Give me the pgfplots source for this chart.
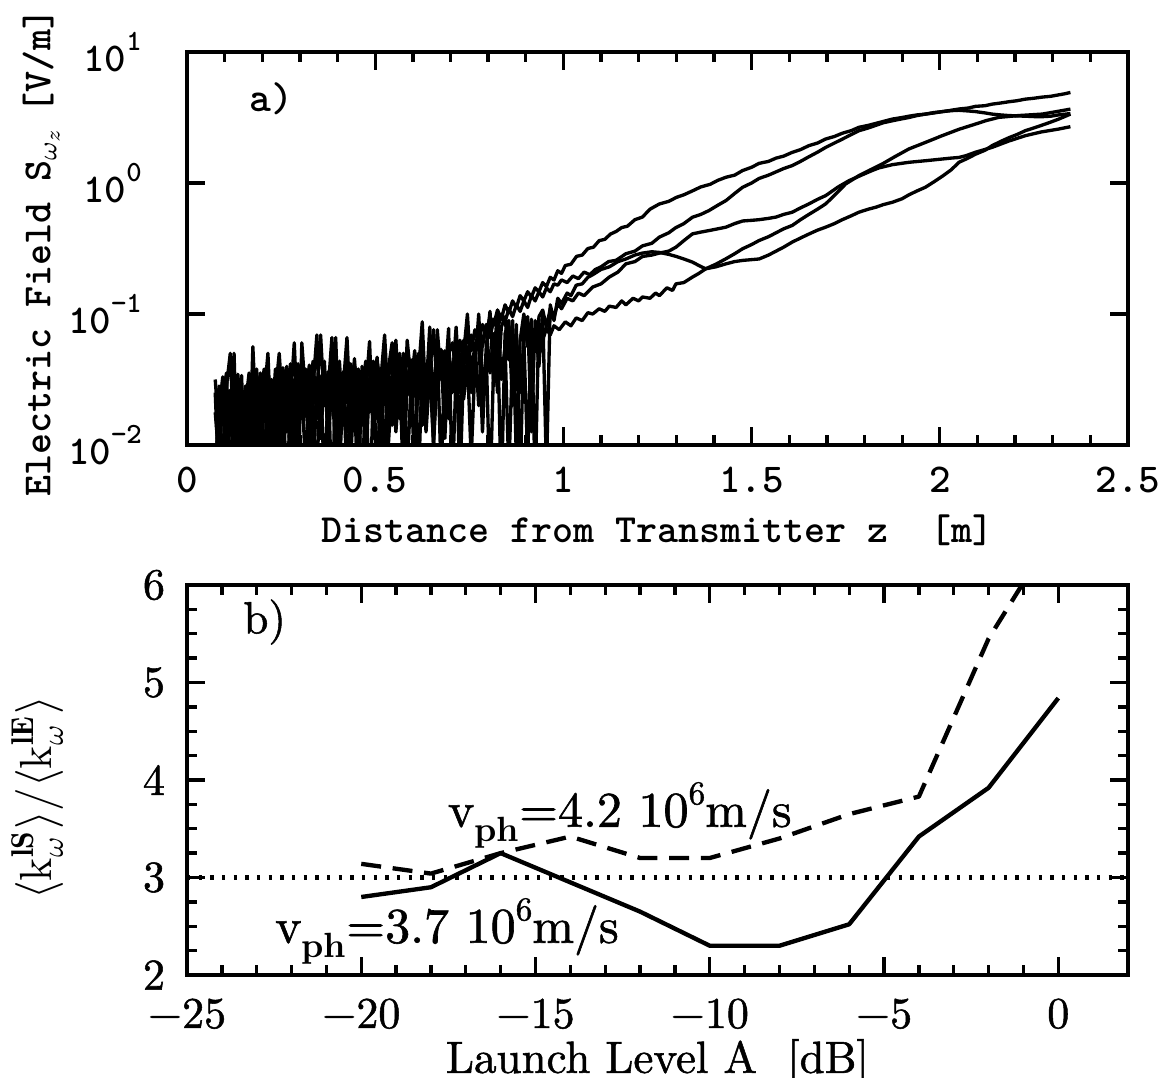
\documentclass[border=0pt]{standalone}
\usepackage{fontspec}
\usepackage{pgfplots}
\pgfplotsset{compat=1.18}
\newfontfamily\ttb{lmmonolt10-bold.otf}
\newfontfamily\rmf{lmroman10-regular.otf}[FakeBold=1.2]
\newfontfamily\rmfb{lmroman10-bold.otf}
\newcommand{\tsup}[1]{\raisebox{0.5em}{\fontsize{8.8}{9}\selectfont #1}}
\begin{document}
\begin{tikzpicture}
\useasboundingbox (-56.1pt,-189.9pt) rectangle (291.6pt,133.5pt);
% ---------------- panel a ----------------
\begin{axis}[
  at={(0,0)}, anchor=south west,
  scale only axis, width=282.3pt, height=117.9pt,
  xmin=0, xmax=2.5, ymin=-2, ymax=1,
  xtick={0,0.5,1,1.5,2,2.5}, xticklabels={0,0.5,1,1.5,2,2.5},
  minor x tick num=4,
  ytick={-2,-1,0,1},
  yticklabels={10\tsup{−2},10\tsup{−1},10\tsup{0},10\tsup{1}},
  axis line style={line width=1.2pt},
  every tick/.style={black, line width=1pt},
  major tick length=5.5pt, minor tick length=3pt,
  tick label style={font=\ttb\fontsize{12.3}{14}\selectfont},
  xticklabel style={yshift=-3pt},
  yticklabel style={xshift=-10pt},
  every axis x label/.style={at={(axis description cs:0.5,-0.216)}, anchor=center, inner sep=0pt},
  every axis y label/.style={at={(axis description cs:-0.155,0.49)}, rotate=90, anchor=center, inner sep=0pt},
  xlabel={Distance from Transmitter z\ \ [m]},
  ylabel={Electric Field S$_{\omega_z}$\hspace{-0.2em} [V/m]},
  label style={font=\ttb\fontsize{12}{14}\selectfont},
]
% curve A
\addplot[black, line width=1pt, line join=round] coordinates {
(0.075,-2.4)(0.085,-1.55)(0.095,-2.2)(0.105,-1.68)(0.115,-1.9)(0.125,-1.3)(0.135,-2.3)(0.145,-1.62)(0.155,-1.95)(0.165,-1.5)(0.175,-2.1)(0.185,-1.72)(0.195,-1.45)(0.205,-2.2)(0.215,-1.6)(0.225,-1.85)(0.235,-1.42)(0.245,-2.0)(0.255,-1.55)(0.265,-2.4)(0.275,-1.66)(0.285,-1.22)(0.295,-1.9)(0.305,-1.52)(0.315,-2.2)(0.325,-1.6)(0.335,-1.36)(0.345,-1.8)(0.355,-1.48)(0.365,-2.3)(0.375,-1.58)(0.385,-1.18)(0.395,-1.95)(0.405,-1.5)(0.415,-1.75)(0.425,-1.34)(0.435,-2.1)(0.445,-1.55)(0.455,-1.42)(0.465,-1.85)(0.475,-1.45)(0.485,-2.5)(0.495,-1.6)(0.505,-1.33)(0.515,-1.7)(0.525,-1.45)(0.535,-2.0)(0.545,-1.5)(0.555,-1.2)(0.565,-1.8)(0.575,-1.42)(0.585,-2.2)(0.595,-1.55)(0.605,-1.28)(0.615,-1.65)(0.625,-1.4)(0.635,-1.9)(0.645,-1.45)(0.655,-1.12)(0.665,-1.6)(0.675,-1.35)(0.685,-1.7)(0.695,-1.3)(0.705,-1.22)(0.715,-1.45)(0.725,-1.2)(0.735,-1.35)(0.745,-1.15)(0.755,-1.28)(0.765,-1.12)(0.775,-1.22)(0.785,-1.08)(0.795,-1.15)(0.805,-1.02)(0.815,-1.08)(0.825,-0.97)(0.835,-1.04)(0.845,-0.93)(0.855,-0.99)(0.865,-0.9)(0.875,-0.95)(0.885,-0.86)(0.895,-0.9)(0.905,-0.83)(0.915,-0.87)(0.925,-0.8)(0.935,-0.83)(0.945,-0.76)(0.955,-0.79)(0.965,-0.72)(0.975,-0.74)(0.985,-0.67)(0.995,-0.69)(1.005,-0.63)(1.02,-0.62)(1.035,-0.56)(1.05,-0.55)(1.065,-0.5)(1.08,-0.49)(1.095,-0.44)(1.11,-0.43)(1.125,-0.39)(1.14,-0.37)(1.155,-0.34)(1.17,-0.33)(1.19,-0.28)(1.21,-0.26)(1.23,-0.2)(1.255,-0.16)(1.28,-0.14)(1.30,-0.11)(1.32,-0.09)(1.343,-0.06)(1.365,-0.03)(1.39,-0.01)(1.41,0.02)(1.432,0.044)(1.455,0.06)(1.476,0.095)(1.50,0.12)(1.52,0.15)(1.545,0.165)(1.565,0.19)(1.585,0.205)(1.608,0.234)(1.63,0.255)(1.652,0.285)(1.675,0.305)(1.697,0.336)(1.72,0.355)(1.741,0.38)(1.765,0.4)(1.785,0.425)(1.81,0.44)(1.83,0.455)(1.85,0.47)(1.874,0.488)(1.9,0.5)(1.918,0.51)(1.94,0.52)(1.962,0.526)(1.985,0.538)(2.007,0.545)(2.03,0.555)(2.051,0.565)(2.075,0.572)(2.095,0.585)(2.12,0.59)(2.139,0.602)(2.16,0.61)(2.183,0.62)(2.205,0.628)(2.227,0.64)(2.25,0.647)(2.27,0.655)(2.295,0.662)(2.316,0.673)(2.33,0.68)(2.347,0.691)
};
% curve B
\addplot[black, line width=1pt, line join=round] coordinates {
(0.075,-1.6)(0.085,-2.3)(0.095,-1.5)(0.105,-2.0)(0.115,-1.58)(0.125,-2.4)(0.135,-1.46)(0.145,-1.85)(0.155,-1.55)(0.165,-2.2)(0.175,-1.25)(0.185,-1.9)(0.195,-1.65)(0.205,-1.42)(0.215,-2.3)(0.225,-1.5)(0.235,-1.78)(0.245,-1.45)(0.255,-2.1)(0.265,-1.6)(0.275,-1.38)(0.285,-2.0)(0.295,-1.5)(0.305,-1.7)(0.315,-1.42)(0.325,-2.35)(0.335,-1.55)(0.345,-1.16)(0.355,-1.95)(0.365,-1.48)(0.375,-1.72)(0.385,-1.35)(0.395,-2.2)(0.405,-1.45)(0.415,-1.6)(0.425,-1.9)(0.435,-1.38)(0.445,-1.65)(0.455,-2.4)(0.465,-1.4)(0.475,-1.6)(0.485,-1.21)(0.495,-1.95)(0.505,-1.48)(0.515,-2.2)(0.525,-1.36)(0.535,-1.55)(0.545,-1.85)(0.555,-1.4)(0.565,-1.3)(0.575,-2.0)(0.585,-1.45)(0.595,-1.62)(0.605,-1.33)(0.615,-2.3)(0.625,-1.38)(0.635,-1.6)(0.645,-1.1)(0.655,-1.85)(0.665,-1.4)(0.675,-1.27)(0.685,-1.95)(0.695,-1.32)(0.705,-1.5)(0.715,-1.1)(0.725,-1.6)(0.735,-1.2)(0.745,-1.4)(0.755,-1.16)(0.765,-1.3)(0.775,-1.12)(0.785,-1.25)(0.795,-1.08)(0.805,-1.18)(0.815,-1.04)(0.825,-1.12)(0.835,-1.0)(0.845,-1.06)(0.855,-0.96)(0.865,-1.02)(0.875,-0.93)(0.885,-0.98)(0.895,-0.9)(0.905,-0.95)(0.915,-0.86)(0.925,-0.9)(0.935,-0.83)(0.945,-0.87)(0.955,-0.8)(0.965,-0.83)(0.975,-0.77)(0.985,-0.78)(0.995,-0.74)(1.01,-0.76)(1.025,-0.71)(1.04,-0.73)(1.055,-0.68)(1.07,-0.7)(1.085,-0.66)(1.10,-0.64)(1.12,-0.6)(1.14,-0.59)(1.166,-0.54)(1.19,-0.52)(1.21,-0.48)(1.235,-0.46)(1.255,-0.413)(1.28,-0.38)(1.299,-0.34)(1.32,-0.31)(1.343,-0.261)(1.365,-0.24)(1.387,-0.21)(1.41,-0.17)(1.432,-0.134)(1.455,-0.08)(1.476,-0.033)(1.50,0.0)(1.52,0.035)(1.545,0.06)(1.565,0.085)(1.585,0.11)(1.608,0.133)(1.63,0.165)(1.652,0.2)(1.675,0.235)(1.697,0.272)(1.72,0.305)(1.741,0.335)(1.765,0.37)(1.785,0.399)(1.81,0.42)(1.83,0.44)(1.85,0.46)(1.874,0.475)(1.9,0.49)(1.918,0.50)(1.94,0.515)(1.962,0.526)(1.985,0.535)(2.007,0.545)(2.03,0.552)(2.051,0.555)(2.075,0.55)(2.095,0.545)(2.12,0.535)(2.139,0.526)(2.16,0.52)(2.183,0.515)(2.205,0.512)(2.227,0.51)(2.25,0.507)(2.27,0.506)(2.295,0.51)(2.316,0.52)(2.347,0.53)
};
% curve F (middle)
\addplot[black, line width=1pt, line join=round] coordinates {
(0.075,-2.2)(0.085,-1.75)(0.095,-1.48)(0.105,-2.3)(0.115,-1.62)(0.125,-1.8)(0.135,-1.5)(0.145,-2.4)(0.155,-1.7)(0.165,-1.45)(0.175,-1.88)(0.185,-1.55)(0.195,-2.2)(0.205,-1.64)(0.215,-1.3)(0.225,-2.0)(0.235,-1.58)(0.245,-1.75)(0.255,-1.41)(0.265,-1.9)(0.275,-1.52)(0.285,-2.3)(0.295,-1.63)(0.305,-1.37)(0.315,-1.78)(0.325,-1.5)(0.335,-2.1)(0.345,-1.6)(0.355,-1.16)(0.365,-1.7)(0.375,-1.44)(0.385,-2.45)(0.395,-1.56)(0.405,-1.36)(0.415,-1.85)(0.425,-1.52)(0.435,-1.68)(0.445,-1.34)(0.455,-2.05)(0.465,-1.58)(0.475,-1.36)(0.485,-1.75)(0.495,-1.42)(0.505,-2.3)(0.515,-1.5)(0.525,-1.16)(0.535,-1.7)(0.545,-1.46)(0.555,-1.9)(0.565,-1.5)(0.575,-1.3)(0.585,-1.62)(0.595,-1.38)(0.605,-2.1)(0.615,-1.45)(0.625,-1.06)(0.635,-1.7)(0.645,-1.38)(0.655,-1.55)(0.665,-1.26)(0.675,-2.2)(0.685,-1.4)(0.695,-1.24)(0.705,-1.6)(0.715,-1.33)(0.725,-1.9)(0.735,-1.3)(0.745,-1.0)(0.755,-1.5)(0.765,-1.22)(0.775,-1.7)(0.785,-1.2)(0.795,-1.1)(0.805,-1.45)(0.815,-1.15)(0.825,-1.6)(0.835,-1.1)(0.845,-1.02)(0.855,-1.35)(0.865,-1.05)(0.875,-2.1)(0.885,-1.2)(0.895,-1.0)(0.905,-1.25)(0.915,-1.04)(0.925,-2.3)(0.935,-1.02)(0.945,-0.97)(0.955,-1.1)(0.965,-0.96)(0.975,-1.02)(0.985,-0.92)(0.995,-0.96)(1.01,-0.88)(1.025,-0.9)(1.04,-0.84)(1.055,-0.86)(1.078,-0.794)(1.1,-0.77)(1.122,-0.718)(1.145,-0.68)(1.166,-0.617)(1.19,-0.6)(1.21,-0.561)(1.235,-0.55)(1.255,-0.535)(1.28,-0.52)(1.299,-0.49)(1.32,-0.44)(1.343,-0.388)(1.365,-0.375)(1.387,-0.363)(1.41,-0.35)(1.432,-0.337)(1.455,-0.31)(1.476,-0.29)(1.50,-0.285)(1.52,-0.28)(1.545,-0.27)(1.565,-0.26)(1.585,-0.24)(1.608,-0.223)(1.63,-0.19)(1.652,-0.16)(1.675,-0.125)(1.697,-0.096)(1.73,-0.03)(1.759,0.018)(1.78,0.045)(1.80,0.07)(1.82,0.095)(1.838,0.115)(1.874,0.14)(1.918,0.158)(1.962,0.17)(2.006,0.183)(2.03,0.19)(2.051,0.195)(2.07,0.209)(2.095,0.235)(2.139,0.272)(2.183,0.32)(2.227,0.361)(2.27,0.39)(2.316,0.412)(2.347,0.43)
};
% curve G (lowest at 1.1-1.4)
\addplot[black, line width=1pt, line join=round] coordinates {
(0.075,-1.75)(0.085,-2.1)(0.095,-1.62)(0.105,-1.45)(0.115,-2.3)(0.125,-1.7)(0.135,-1.55)(0.145,-2.0)(0.155,-1.6)(0.165,-2.35)(0.175,-1.52)(0.185,-1.42)(0.195,-1.9)(0.205,-1.55)(0.215,-1.7)(0.225,-2.4)(0.235,-1.6)(0.245,-1.3)(0.255,-1.75)(0.265,-1.48)(0.275,-2.2)(0.285,-1.56)(0.295,-1.38)(0.305,-1.8)(0.315,-1.55)(0.325,-1.7)(0.335,-2.3)(0.345,-1.5)(0.355,-1.62)(0.365,-1.36)(0.375,-2.0)(0.385,-1.5)(0.395,-1.42)(0.405,-2.2)(0.415,-1.56)(0.425,-1.18)(0.435,-1.8)(0.445,-1.38)(0.455,-1.6)(0.465,-2.4)(0.475,-1.5)(0.485,-1.4)(0.495,-1.7)(0.505,-1.36)(0.515,-1.55)(0.525,-2.1)(0.535,-1.42)(0.545,-1.22)(0.555,-1.75)(0.565,-1.45)(0.575,-2.3)(0.585,-1.5)(0.595,-1.35)(0.605,-1.6)(0.615,-1.3)(0.625,-1.85)(0.635,-1.42)(0.645,-1.32)(0.655,-2.0)(0.665,-1.45)(0.675,-1.3)(0.685,-1.55)(0.695,-1.11)(0.705,-2.3)(0.715,-1.45)(0.725,-1.3)(0.735,-1.65)(0.745,-1.35)(0.755,-2.1)(0.765,-1.4)(0.775,-1.0)(0.785,-1.6)(0.795,-1.3)(0.805,-2.4)(0.815,-1.35)(0.825,-0.97)(0.835,-1.5)(0.845,-1.25)(0.855,-2.2)(0.865,-1.3)(0.875,-1.18)(0.885,-1.6)(0.895,-1.2)(0.905,-2.1)(0.915,-1.15)(0.925,-1.25)(0.935,-1.13)(0.945,-1.2)(0.955,-1.11)(0.965,-1.16)(0.975,-1.09)(0.989,-1.12)(1.005,-1.06)(1.02,-1.09)(1.034,-1.03)(1.05,-1.05)(1.065,-0.99)(1.078,-1.0)(1.095,-0.96)(1.11,-0.98)(1.122,-0.94)(1.14,-0.95)(1.155,-0.9)(1.166,-0.93)(1.185,-0.88)(1.2,-0.9)(1.21,-0.87)(1.23,-0.88)(1.245,-0.84)(1.255,-0.86)(1.275,-0.8)(1.29,-0.82)(1.299,-0.77)(1.32,-0.76)(1.343,-0.718)(1.36,-0.69)(1.378,-0.655)(1.405,-0.62)(1.432,-0.578)(1.455,-0.54)(1.476,-0.502)(1.50,-0.47)(1.52,-0.439)(1.545,-0.41)(1.565,-0.38)(1.585,-0.35)(1.608,-0.324)(1.63,-0.28)(1.652,-0.24)(1.675,-0.2)(1.697,-0.159)(1.725,-0.08)(1.75,-0.007)(1.785,0.056)(1.815,0.1)(1.847,0.145)(1.88,0.2)(1.918,0.26)(1.962,0.31)(2.006,0.361)(2.051,0.41)(2.095,0.45)(2.125,0.478)(2.157,0.501)(2.21,0.515)(2.272,0.526)(2.31,0.545)(2.347,0.564)
};
% curve D (hump)
\addplot[black, line width=1pt, line join=round] coordinates {
(0.075,-1.5)(0.085,-1.9)(0.095,-2.4)(0.105,-1.55)(0.115,-1.3)(0.125,-2.0)(0.135,-1.65)(0.145,-1.47)(0.155,-2.3)(0.165,-1.6)(0.175,-1.68)(0.185,-2.1)(0.195,-1.5)(0.205,-1.8)(0.215,-1.45)(0.225,-1.62)(0.235,-2.2)(0.245,-1.52)(0.255,-1.66)(0.265,-1.4)(0.275,-1.95)(0.285,-1.5)(0.295,-2.4)(0.305,-1.22)(0.315,-1.62)(0.325,-1.39)(0.335,-1.85)(0.345,-2.2)(0.355,-1.5)(0.365,-1.42)(0.375,-1.9)(0.385,-1.6)(0.395,-1.18)(0.405,-2.0)(0.415,-1.44)(0.425,-2.3)(0.435,-1.55)(0.445,-1.4)(0.455,-1.7)(0.465,-1.46)(0.475,-2.15)(0.485,-1.5)(0.495,-1.36)(0.505,-1.8)(0.515,-1.42)(0.525,-2.4)(0.535,-1.48)(0.545,-1.36)(0.555,-1.65)(0.565,-1.38)(0.575,-1.9)(0.585,-1.2)(0.595,-1.5)(0.605,-2.2)(0.615,-1.4)(0.625,-1.3)(0.635,-1.75)(0.645,-1.42)(0.655,-2.0)(0.665,-1.12)(0.675,-1.5)(0.685,-1.28)(0.695,-1.8)(0.705,-1.4)(0.715,-1.27)(0.725,-2.3)(0.735,-1.4)(0.745,-1.25)(0.755,-1.6)(0.765,-1.3)(0.775,-1.15)(0.785,-1.9)(0.795,-1.25)(0.805,-0.98)(0.815,-1.55)(0.825,-1.12)(0.835,-2.4)(0.845,-1.15)(0.855,-1.05)(0.865,-1.7)(0.875,-1.08)(0.885,-2.3)(0.895,-1.12)(0.905,-1.02)(0.915,-1.9)(0.925,-1.05)(0.935,-1.4)(0.945,-0.98)(0.955,-2.2)(0.965,-0.93)(0.975,-1.05)(0.985,-0.88)(0.995,-0.92)(1.01,-0.84)(1.02,-0.86)(1.034,-0.78)(1.05,-0.77)(1.065,-0.72)(1.078,-0.70)(1.1,-0.66)(1.122,-0.64)(1.145,-0.6)(1.166,-0.58)(1.19,-0.55)(1.21,-0.535)(1.235,-0.525)(1.255,-0.53)(1.28,-0.545)(1.299,-0.56)(1.32,-0.58)(1.343,-0.604)(1.36,-0.63)(1.378,-0.655)(1.405,-0.64)(1.432,-0.617)(1.455,-0.6)(1.476,-0.591)(1.50,-0.585)(1.52,-0.58)(1.545,-0.55)(1.565,-0.52)(1.585,-0.49)(1.608,-0.451)(1.63,-0.42)(1.652,-0.39)(1.675,-0.36)(1.697,-0.337)(1.72,-0.31)(1.741,-0.28)(1.765,-0.25)(1.785,-0.223)(1.81,-0.2)(1.83,-0.185)(1.85,-0.165)(1.874,-0.147)(1.9,-0.12)(1.918,-0.09)(1.94,-0.06)(1.962,-0.032)(1.985,0.01)(2.006,0.05)(2.03,0.1)(2.051,0.158)(2.075,0.19)(2.095,0.22)(2.12,0.25)(2.139,0.285)(2.16,0.315)(2.183,0.345)(2.205,0.37)(2.227,0.399)(2.26,0.43)(2.29,0.46)(2.316,0.488)(2.347,0.526)
};
\node[anchor=west, inner sep=0pt, font=\ttb\fontsize{12.5}{14}\selectfont] at (axis cs:0.164,0.64) {a)};
\end{axis}
% ---------------- panel b ----------------
\begin{axis}[
  at={(0,-42pt)}, anchor=north west,
  scale only axis, width=282.3pt, height=117pt,
  xmin=-25, xmax=2, ymin=2, ymax=6,
  xtick={-25,-20,-15,-10,-5,0}, xticklabels={−25,−20,−15,−10,−5,0},
  ytick={2,3,4,5,6}, yticklabels={2,3,4,5,6},
  minor x tick num=4, minor y tick num=3,
  axis line style={line width=1.2pt},
  every tick/.style={black, line width=1pt},
  major tick length=5.5pt, minor tick length=3pt,
  tick label style={font=\rmf\fontsize{13.2}{15}\selectfont, inner sep=1pt},
  xticklabel style={yshift=-5.9pt},
  yticklabel style={xshift=-5.4pt},
  every axis x label/.style={at={(axis description cs:0.5,-0.222)}, anchor=center, inner sep=0pt},
  every axis y label/.style={at={(axis description cs:-0.159,0.454)}, rotate=90, anchor=center, inner sep=0pt},
  xlabel={Launch Level A\ \ [dB]},
  ylabel={$\langle \mathrm{k}^{\mathbf{lS}}_{\omega}\rangle/\langle \mathrm{k}^{\mathbf{lE}}_{\omega}\rangle$},
  label style={font=\rmf\fontsize{13.5}{15}\selectfont},
]
\addplot[black, line width=1.4pt, dash pattern=on 1pt off 2.5pt] coordinates {(-25,3) (2,3)};
\addplot[black, line width=1.3pt, line join=round] coordinates {
(-20,2.8) (-18,2.9) (-16,3.25) (-12,2.65) (-10,2.3) (-8,2.3) (-6,2.52) (-4,3.42) (-2,3.92) (0,4.84)
};
\addplot[black, line width=1.3pt, line join=round, dash pattern=on 6pt off 3.5pt] coordinates {
(-20,3.14) (-18,3.04) (-16,3.25) (-14,3.42) (-12,3.2) (-10,3.2) (-8,3.4) (-6,3.65) (-4,3.83) (-2,5.45) (0,6.6)
};
\node[anchor=west, inner sep=0pt, font=\rmf\fontsize{13.5}{15}\selectfont] at (axis cs:-23.4,5.62) {b)};
\node[anchor=base west, inner sep=0pt, font=\rmf\fontsize{15}{17}\selectfont] at (axis cs:-17.53,3.52)
  {v\raisebox{-0.3em}{\rmfb\fontsize{10.5}{11}\selectfont ph}=4.2 10\raisebox{0.45em}{\fontsize{10}{11}\selectfont 6}m/s};
\node[anchor=base west, inner sep=0pt, font=\rmf\fontsize{15}{17}\selectfont] at (axis cs:-22.49,2.33)
  {v\raisebox{-0.3em}{\rmfb\fontsize{10.5}{11}\selectfont ph}=3.7 10\raisebox{0.45em}{\fontsize{10}{11}\selectfont 6}m/s};
\end{axis}
\end{tikzpicture}
\end{document}
